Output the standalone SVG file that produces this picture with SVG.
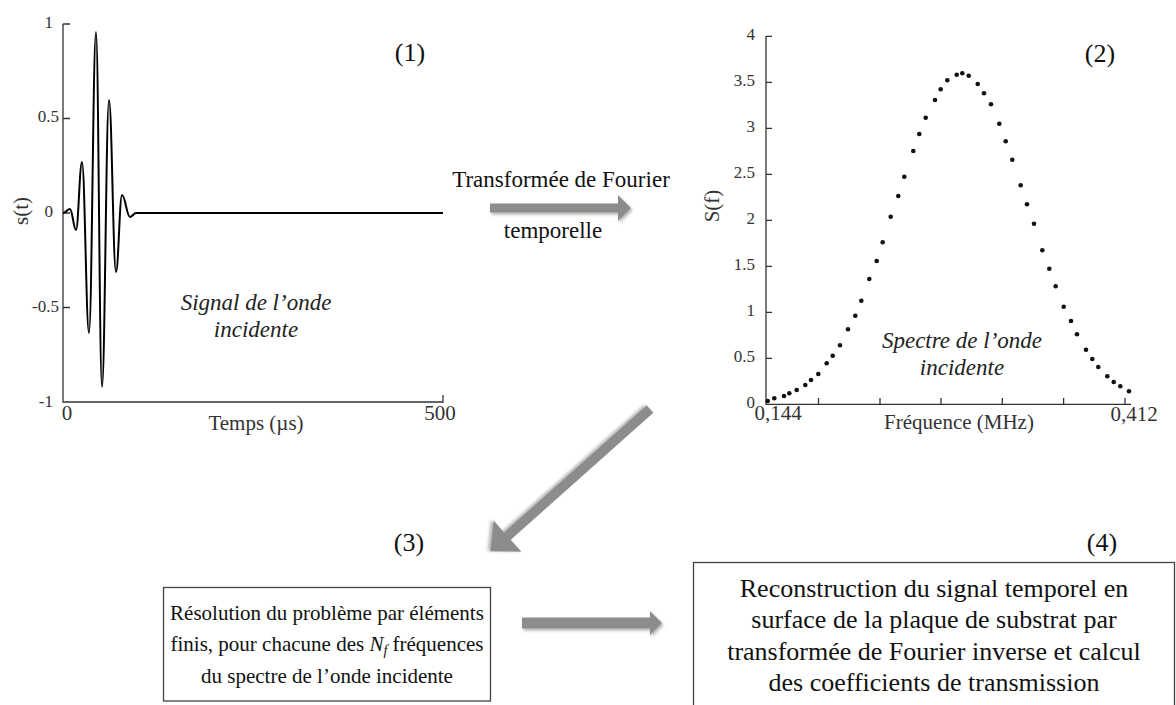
<svg xmlns="http://www.w3.org/2000/svg" width="1176" height="705" viewBox="0 0 1176 705">
<style>
text{font-family:"Liberation Serif","Times New Roman",serif;}
.ax{stroke:#333;stroke-width:1.3;fill:none;}
.tk{font-size:17px;fill:#333;}
.tkr{font-size:17px;fill:#333;text-anchor:end;}
.lab{font-size:21px;fill:#333;}
.it{font-size:23px;font-style:italic;fill:#222;text-anchor:middle;}
.num{font-size:26px;fill:#111;}
.box{fill:#fff;stroke:#444;stroke-width:1.3;}
.bt{fill:#111;text-anchor:middle;}
.arr{fill:#8c8c8c;filter:url(#sh);}
.dot{fill:#111;}
</style>
<defs>
<filter id="sh" x="-20%" y="-50%" width="140%" height="200%">
<feDropShadow dx="1.5" dy="2" stdDeviation="1.5" flood-color="#000" flood-opacity="0.3"/>
</filter>
</defs>

<g id="plot1">
<path class="ax" d="M63,24 V402 H443 V395 M63,24 H70 M63,118.5 H70 M63,213 H70 M63,307.5 H70"/>
<text class="tkr" x="53" y="28">1</text>
<text class="tkr" x="59" y="122">0.5</text>
<text class="tkr" x="53" y="217">0</text>
<text class="tkr" x="59" y="312">-0.5</text>
<text class="tkr" x="53" y="407">-1</text>
<text class="lab" transform="translate(28,211) rotate(-90)" text-anchor="middle">s(t)</text>
<text class="lab" x="67" y="420" text-anchor="middle">0</text>
<text class="lab" x="256" y="430" text-anchor="middle">Temps (µs)</text>
<text class="lab" x="440" y="420" text-anchor="middle">500</text>
<path fill="none" stroke="#000" stroke-width="2" stroke-linejoin="round" d="M63,213 C65.8,213 67.2,209 70,209 C72.4,209 73.6,230 76,230 C78.4,230 79.6,162 82,162 C84.8,162 86.2,333 89,333 C91.8,333 93.2,32 96,32 C98.4,32 99.6,387 102,387 C104.8,387 106.2,100 109,100 C111.8,100 113.2,272 116,272 C118.4,272 119.6,195 122,195 C125.2,195 126.8,217 130,217 C132.4,217 133.6,213 136,213 L443,213"/>
<text class="it" x="256" y="310">Signal de l’onde</text>
<text class="it" x="256" y="337">incidente</text>
<text class="num" x="410" y="61" text-anchor="middle">(1)</text>
</g>

<g id="plot2">
<path class="ax" d="M766,36 V404.3 H1131 M766,36.3 H772 M766,82.3 H772 M766,128.3 H772 M766,174.3 H772 M766,220.3 H772 M766,266.3 H772 M766,312.3 H772 M766,358.3 H772 M818.5,404.3 V398 M880,404.3 V398 M941,404.3 V398 M1002.3,404.3 V398 M1063.6,404.3 V398 M1125,404.3 V398"/>
<text class="tkr" x="755" y="40">4</text>
<text class="tkr" x="755" y="86">3.5</text>
<text class="tkr" x="755" y="132">3</text>
<text class="tkr" x="755" y="178">2.5</text>
<text class="tkr" x="755" y="224">2</text>
<text class="tkr" x="755" y="270">1.5</text>
<text class="tkr" x="755" y="316">1</text>
<text class="tkr" x="755" y="362">0.5</text>
<text class="tkr" x="755" y="408">0</text>
<text class="lab" transform="translate(719,206) rotate(-90)" text-anchor="middle">S(f)</text>
<text class="lab" x="778" y="420" text-anchor="middle">0,144</text>
<text class="lab" x="959" y="429" text-anchor="middle">Fréquence (MHz)</text>
<text class="lab" x="1134" y="421" text-anchor="middle">0,412</text>
<g class="dot">
<circle cx="767.7" cy="401" r="2.3"/><circle cx="774.3" cy="398.3" r="2.3"/><circle cx="784" cy="396" r="2.3"/><circle cx="789.3" cy="393.3" r="2.3"/><circle cx="796.7" cy="390" r="2.3"/><circle cx="805.3" cy="385" r="2.3"/><circle cx="811" cy="380" r="2.3"/><circle cx="818.3" cy="374" r="2.3"/><circle cx="826.7" cy="363.3" r="2.3"/><circle cx="832.7" cy="355.7" r="2.3"/><circle cx="840" cy="345.3" r="2.3"/><circle cx="848" cy="329.3" r="2.3"/><circle cx="855.3" cy="315.7" r="2.3"/><circle cx="861.3" cy="300.7" r="2.3"/><circle cx="869.3" cy="279" r="2.3"/><circle cx="876.7" cy="261" r="2.3"/><circle cx="882.7" cy="242.3" r="2.3"/><circle cx="890.7" cy="216.7" r="2.3"/><circle cx="898.3" cy="196" r="2.3"/><circle cx="904.3" cy="176.7" r="2.3"/><circle cx="913.3" cy="151" r="2.3"/><circle cx="919.3" cy="134" r="2.3"/><circle cx="925.7" cy="117.7" r="2.3"/><circle cx="935" cy="100" r="2.3"/><circle cx="940.7" cy="89.3" r="2.3"/><circle cx="947.3" cy="80.3" r="2.3"/><circle cx="956.7" cy="74.7" r="2.3"/><circle cx="962.3" cy="73.3" r="2.3"/><circle cx="968.7" cy="75.7" r="2.3"/><circle cx="977.7" cy="84" r="2.3"/><circle cx="984" cy="93.3" r="2.3"/><circle cx="991" cy="104.3" r="2.3"/><circle cx="999.3" cy="123.7" r="2.3"/><circle cx="1005.7" cy="141.3" r="2.3"/><circle cx="1012.3" cy="159.7" r="2.3"/><circle cx="1020.7" cy="185.3" r="2.3"/><circle cx="1027" cy="204.3" r="2.3"/><circle cx="1034" cy="223.7" r="2.3"/><circle cx="1042.3" cy="250.3" r="2.3"/><circle cx="1049.3" cy="268.7" r="2.3"/><circle cx="1055.7" cy="286.3" r="2.3"/><circle cx="1063.7" cy="306.7" r="2.3"/><circle cx="1071" cy="321" r="2.3"/><circle cx="1077" cy="334.3" r="2.3"/><circle cx="1086" cy="349.7" r="2.3"/><circle cx="1092.3" cy="359" r="2.3"/><circle cx="1098.3" cy="367" r="2.3"/><circle cx="1107.3" cy="376.3" r="2.3"/><circle cx="1113.7" cy="382" r="2.3"/><circle cx="1120.3" cy="386.3" r="2.3"/><circle cx="1129" cy="391.3" r="2.3"/>
</g>
<text class="it" x="962" y="348">Spectre de l’onde</text>
<text class="it" x="962" y="375">incidente</text>
<text class="num" x="1100" y="62" text-anchor="middle">(2)</text>
</g>

<g id="label-fourier">
<text x="561" y="187" text-anchor="middle" font-size="23" fill="#111">Transformée de Fourier</text>
<text x="553" y="238" text-anchor="middle" font-size="23" fill="#111">temporelle</text>
</g>

<g id="label3"><text class="num" x="409" y="551" text-anchor="middle">(3)</text></g>
<g id="label4"><text class="num" x="1102" y="551" text-anchor="middle">(4)</text></g>

<g id="box3">
<rect class="box" x="163.5" y="587.5" width="327" height="113.5"/>
<text class="bt" font-size="21"><tspan x="327" y="620">Résolution du problème par éléments</tspan><tspan x="327" y="651">finis, pour chacune des <tspan font-style="italic">N</tspan><tspan font-style="italic" font-size="14" dy="4">f</tspan><tspan dy="-4"> fréquences</tspan></tspan><tspan x="327" y="683">du spectre de l’onde incidente</tspan></text>
</g>

<g id="box4">
<rect class="box" x="693.5" y="562.5" width="481" height="200"/>
<text class="bt" font-size="26"><tspan x="934" y="597">Reconstruction du signal temporel en</tspan><tspan x="934" y="628">surface de la plaque de substrat par</tspan><tspan x="934" y="660">transformée de Fourier inverse et calcul</tspan><tspan x="934" y="691">des coefficients de transmission</tspan></text>
</g>

<g id="connectors">
<polygon class="arr" points="490,203.5 618,203.5 618,195 631,208 618,221 618,212.5 490,212.5"/>
<polygon class="arr" transform="translate(650,409) rotate(138.3)" points="0,-5 191,-5 191,-21 214,0 191,21 191,5 0,5"/>
<polygon class="arr" points="522,617.5 650,617.5 650,611 662,623 650,635 650,628.5 522,628.5"/>
</g>
</svg>
